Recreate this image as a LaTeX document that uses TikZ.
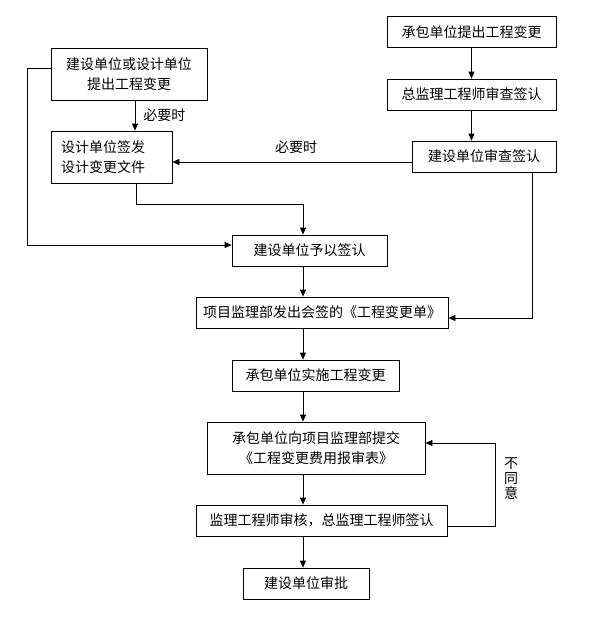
\documentclass[tikz,border=0pt]{standalone}
\usepackage{fontspec}
\usetikzlibrary{arrows.meta}
\newfontfamily\cjk{Noto Sans CJK SC}
\tikzset{
  box/.style={draw, line width=0.8pt, inner sep=0pt, minimum height=31pt,
    align=center, font=\cjk\fontsize{14}{20.5}\selectfont},
  flow/.style={draw, line width=0.8pt, -{Triangle[length=7pt,width=6pt]}},
  note/.style={inner sep=0pt, font=\cjk\fontsize{14}{15}\selectfont}
}
\begin{document}
\begin{tikzpicture}[x=1pt,y=-1pt]
  \useasboundingbox (0,0) rectangle (615,619);

  \node[box, minimum width=169pt] (propose) at (471.5,32) {承包单位提出工程变更};
  \node[box, minimum width=169pt] (chief) at (471.5,94.5) {总监理工程师审查签认};
  \node[box, minimum width=144pt] (ownercheck) at (484,156.5) {建设单位审查签认};
  \node[box, minimum width=156pt, minimum height=52pt] (ownerdesign) at (129,74)
    {建设单位或设计单位\\提出工程变更};
  \node[box, minimum width=121pt, minimum height=52pt, text width=101pt, align=left]
    (designer) at (111.5,157) {设计单位签发\\设计变更文件};
  \node[box, minimum width=155pt] (confirm) at (309.5,250.5) {建设单位予以签认};
  \node[box, minimum width=252pt] (order) at (322,312.5) {项目监理部发出会签的《工程变更单》};
  \node[box, minimum width=167pt] (build) at (315.5,375.5) {承包单位实施工程变更};
  \node[box, minimum width=218pt, minimum height=52pt] (cost) at (316,448)
    {承包单位向项目监理部提交\\《工程变更费用报审表》};
  \node[box, minimum width=251pt] (review) at (321.5,520.5) {监理工程师审核，总监理工程师签认};
  \node[box, minimum width=126pt] (approve) at (306,583.5) {建设单位审批};

  \coordinate (j1) at (303,204);
  \coordinate (j2) at (27,245);
  \coordinate (j3) at (532,318);
  \coordinate (j4) at (495,526);
  \coordinate (j5) at (495,443);

  \draw[flow] (propose) -- (chief);
  \draw[flow] (chief.south) -- (chief.south |- ownercheck.north);
  \draw[flow] ([xshift=6pt]ownerdesign.south) -- ([xshift=6pt]ownerdesign.south |- designer.north)
    node[note, midway, right=8pt] {必要时};
  \draw[flow] ([yshift=-5.5pt]ownercheck.west) -- ([yshift=-5.5pt]ownercheck.west -| designer.east)
    node[note, midway, above=8pt, xshift=4pt] {必要时};
  \draw[flow] ([xshift=24.5pt]designer.south) |- (j1) -- (j1 |- confirm.north);
  \draw[flow] ([yshift=6pt]ownerdesign.west) -| (j2) -- (j2 -| confirm.west);
  \draw[flow] (ownercheck.south -| j3) -- (j3) -- (j3 -| order.east);

  \draw[flow] (confirm.south -| j1) -- (order.north -| j1);
  \draw[flow] (order.south -| j1) -- (build.north -| j1);
  \draw[flow] (build.south -| j1) -- (cost.north -| j1);
  \draw[flow] (cost.south -| j1) -- (review.north -| j1);
  \draw[flow] (review.south -| j1) -- (approve.north -| j1);

  \draw[flow] (j4 -| review.east) -- (j4) -- (j5) -- (j5 -| cost.east);
  \node[note, align=center] (disagree) at (511,479) {不\\同\\意};
\end{tikzpicture}
\end{document}
